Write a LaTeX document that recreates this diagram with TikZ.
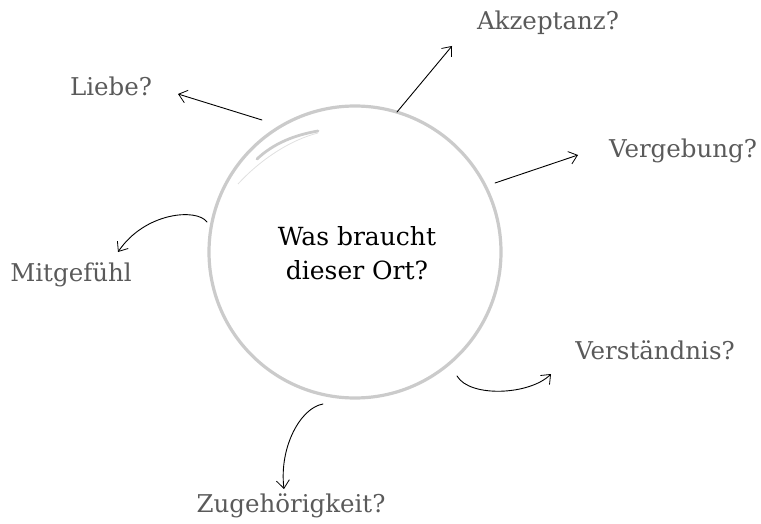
\documentclass[tikz,border=0pt]{standalone}
\usepackage{fontspec}
\setmainfont{DejaVu Serif}
\usetikzlibrary{arrows.meta}
\definecolor{labgray}{HTML}{5A5A5A}
\definecolor{ringgray}{HTML}{CBCBCB}
\begin{document}
\begin{tikzpicture}[x=1pt,y=-1pt,
  lab/.style={text=labgray, font=\fontsize{24.5}{28}\selectfont, inner sep=0pt, anchor=base},
  maintxt/.style={text=black, font=\fontsize{25}{29}\selectfont, inner sep=0pt, anchor=base},
  arr/.style={draw=black, line width=0.9pt, line cap=round, -{Straight Barb[length=8pt,width=13pt,line width=0.8pt]}},
  ring/.style={draw=ringgray, line width=3.2pt}]
\useasboundingbox (0,0) rectangle (761,524);
% circle
\node[ring, circle, minimum size=292pt, inner sep=0pt] (c) at (355,252) {};
\draw[ringgray, line width=2.8pt, line cap=round] (257,159) .. controls (274,143) and (295,135) .. (318,131);
\draw[ringgray!60, line width=0.8pt] (238,184) .. controls (260,160) and (290,140) .. (318,133);
% main text
\node[maintxt] (t1) at (357,245) {Was braucht};
\node[maintxt] (t2) at (357,279) {dieser Ort?};
% labels
\node[lab] (liebe) at (111,96) {Liebe?};
\node[lab] (akz) at (548,30) {Akzeptanz?};
\node[lab] (verg) at (683,158) {Vergebung?};
\node[lab] (mit) at (71,281) {Mitgefühl};
\node[lab] (verst) at (655,359) {Verständnis?};
\node[lab] (zug) at (291,512) {Zugehörigkeit?};
% arrow endpoints
\coordinate (s1) at (262,120); \coordinate (e1) at (178,94);
\coordinate (s2) at (397,112); \coordinate (e2) at (452,46);
\coordinate (s3) at (495,183); \coordinate (e3) at (578,155);
\coordinate (s4) at (207,222); \coordinate (e4) at (118,252);
\coordinate (s5) at (457,376); \coordinate (e5) at (551,374);
\coordinate (s6) at (323,404); \coordinate (e6) at (284,489);
\draw[arr] (s1) -- (e1);
\draw[arr] (s2) -- (e2);
\draw[arr] (s3) -- (e3);
\draw[arr] (s4) .. controls (197,208) and (145,212) .. (e4);
\draw[arr] (s5) .. controls (470,398) and (530,395) .. (e5);
\draw[arr] (s6) .. controls (300,408) and (279,448) .. (e6);
\end{tikzpicture}
\end{document}
